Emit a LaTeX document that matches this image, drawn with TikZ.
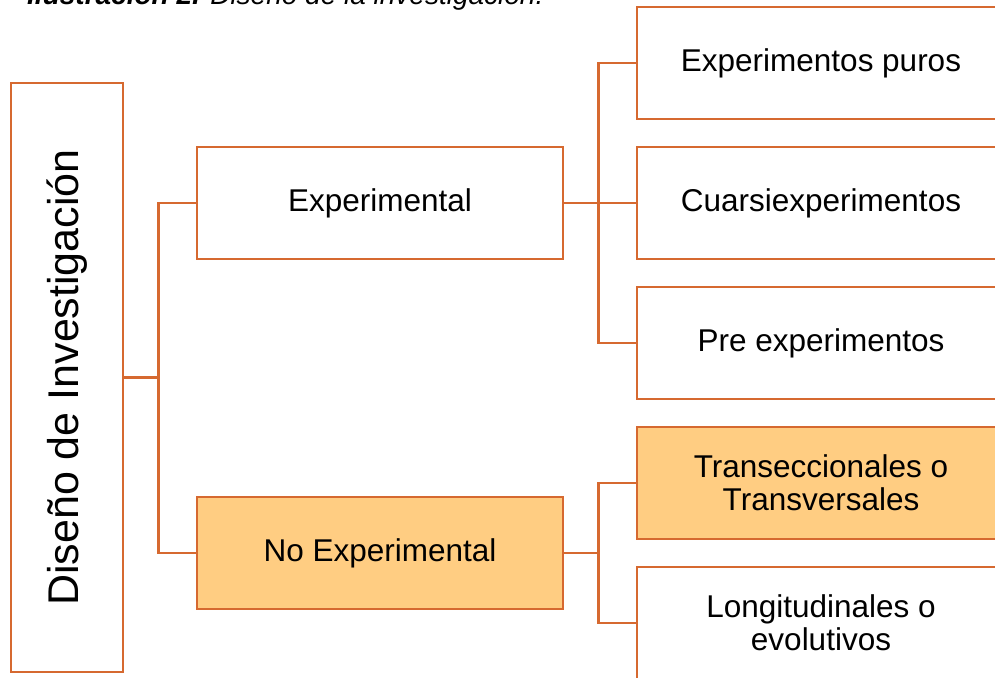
\documentclass[tikz,border=0pt]{standalone}
\usepackage{fontspec}
\setmainfont{Liberation Sans}
\definecolor{edgeor}{RGB}{214,105,48}
\definecolor{fillor}{RGB}{255,205,130}
\begin{document}
\begin{tikzpicture}[x=1pt,y=-1pt,
  box/.style={draw=edgeor,line width=2.8pt,inner sep=0pt,align=center,
    font=\fontsize{31.5}{33}\selectfont},
  midbox/.style={box,minimum width=366pt,minimum height=112pt},
  leafbox/.style={box,minimum width=368pt,minimum height=112pt},
  hl/.style={fill=fillor},
  link/.style={draw=edgeor,line width=2.8pt}]
\useasboundingbox (0,0) rectangle (995,677);
\clip (0,0) rectangle (995,677);
\node[anchor=base west,inner sep=0pt] (cap) at (27,4.5)
  {\fontsize{28}{30}\selectfont\itshape\bfseries Ilustración 2. \mdseries Diseño de la investigación.};
\node[box,minimum width=112pt,minimum height=589pt] (root) at (67,377.5) {};
\node[rotate=90,font=\fontsize{43}{45}\selectfont] (roottxt) at (root.center) {Diseño de Investigación};
\node[midbox] (exp) at (380,203) {Experimental};
\node[midbox,hl] (noexp) at (380,553) {No Experimental};
\node[leafbox] (puros) at (821,63) {Experimentos puros};
\node[leafbox] (cuasi) at (821,203) {Cuarsiexperimentos};
\node[leafbox] (pre) at (821,343) {Pre experimentos};
\node[leafbox,hl] (trans) at (821,483) {Transeccionales o\\Transversales};
\node[leafbox] (longi) at (821,623) {Longitudinales o\\evolutivos};
\coordinate (j1) at (160,377.5);
\coordinate (j2) at (600,203);
\coordinate (j3) at (600,553);
\draw[link] (root.east) -- (j1);
\draw[link] (exp.west) -- ++(-37,0) |- (noexp.west);
\draw[link] (exp.east) -- (j2);
\draw[link] (puros.west) -- ++(-37,0) |- (pre.west);
\draw[link] (j2) -- (cuasi.west);
\draw[link] (noexp.east) -- (j3);
\draw[link] (trans.west) -- ++(-37,0) |- (longi.west);
\end{tikzpicture}
\end{document}
